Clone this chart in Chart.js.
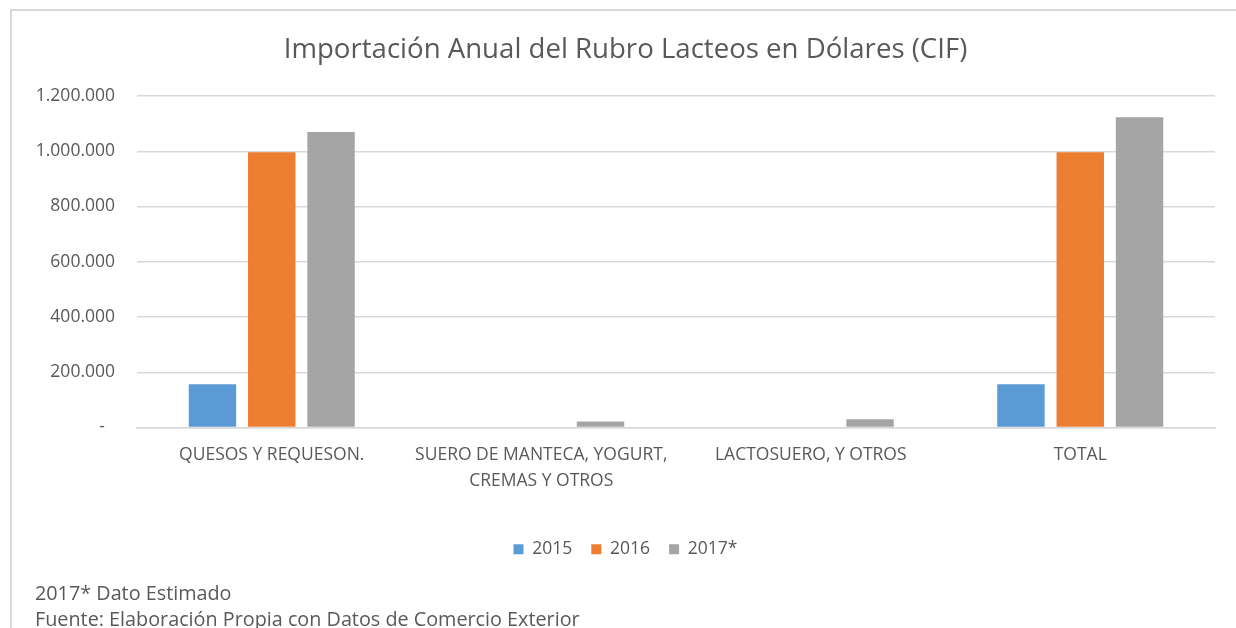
<!DOCTYPE html>
<html>
<head>
<meta charset="utf-8">
<script src="https://cdn.jsdelivr.net/npm/chart.js@4.4.0/dist/chart.umd.min.js"></script>
<style>
  html, body { margin: 0; padding: 0; background: #fff; }
  body { width: 1236px; height: 628px; position: relative; overflow: hidden; font-family: "Open Sans", sans-serif; }
  #frame { position: absolute; left: 10px; top: 9px; width: 1240px; height: 640px; border: 2px solid #d9d9d9; box-sizing: border-box; }
  #wrap { position: absolute; left: 0; top: 0; width: 1236px; height: 628px; }
  .note { position: absolute; left: 35px; color: #595959; font-size: 19.8px; line-height: 24px; white-space: nowrap; }
</style>
</head>
<body>
<div id="frame"></div>
<div id="wrap"><canvas id="c"></canvas></div>
<div class="note" style="top:581px;">2017* Dato Estimado</div>
<div class="note" style="top:607px;">Fuente: Elaboración Propia con Datos de Comercio Exterior</div>
<script>
const categories = [
  ['QUESOS Y REQUESON.'],
  ['SUERO DE MANTECA, YOGURT,', 'CREMAS Y OTROS'],
  ['LACTOSUERO, Y OTROS'],
  ['TOTAL']
];
const seriesNames = ['2015', '2016', '2017*'];
const values2015 = [157000, 0, 0, 157000];
const values2016 = [996000, 0, 0, 996000];
const values2017 = [1070000, 22000, 30000, 1123000];
const yTicks = [0, 200000, 400000, 600000, 800000, 1000000, 1200000];

const colors = ['#5b9bd5', '#ed7d31', '#a5a5a5'];
const textColor = '#595959';
const gridColor = '#d9d9d9';

function fmt(v) {
  if (v === 0) return '-\u2007';
  return String(Math.round(v)).replace(/\B(?=(\d{3})+(?!\d))/g, '.');
}

new Chart(document.getElementById('c'), {
  type: 'bar',
  data: {
    labels: categories,
    datasets: [values2015, values2016, values2017].map((d, i) => ({
      label: seriesNames[i],
      data: d,
      backgroundColor: colors[i],
      borderWidth: 0,
      categoryPercentage: 0.66,
      barPercentage: 0.8
    }))
  },
  options: {
    responsive: true,
    maintainAspectRatio: false,
    animation: false,
    layout: { padding: { left: 36, right: 21, top: 34, bottom: 60 } },
    plugins: {
      title: {
        display: true,
        text: 'Importación Anual del Rubro Lacteos en Dólares (CIF)',
        color: textColor,
        font: { family: 'Open Sans', size: 27.6, weight: 'normal', lineHeight: 1.2 },
        padding: { top: 0, bottom: 28.9 }
      },
      legend: {
        position: 'bottom',
        labels: {
          color: textColor,
          font: { family: 'Open Sans', size: 17.5 },
          boxWidth: 10,
          boxHeight: 10,
          padding: 19
        }
      },
      tooltip: { enabled: false }
    },
    scales: {
      x: {
        grid: { display: false, drawTicks: false },
        border: { display: true, color: gridColor, width: 1.5 },
        ticks: {
          color: textColor,
          font: { family: 'Open Sans', size: 17.5, lineHeight: 1.5 },
          padding: 14,
          maxRotation: 0,
          autoSkip: false
        },
        afterFit: (s) => { s.height = 94; }
      },
      y: {
        min: 0,
        max: 1200000,
        afterBuildTicks: (s) => { s.ticks = yTicks.map(v => ({ value: v })); },
        grid: { color: gridColor, lineWidth: 1.5, drawTicks: false },
        border: { display: false },
        ticks: {
          color: textColor,
          font: { family: 'Open Sans', size: 17.5 },
          padding: 22,
          callback: (v) => fmt(v)
        },
        afterFit: (s) => { s.width = 101; }
      }
    }
  }
});
</script>
</body>
</html>
